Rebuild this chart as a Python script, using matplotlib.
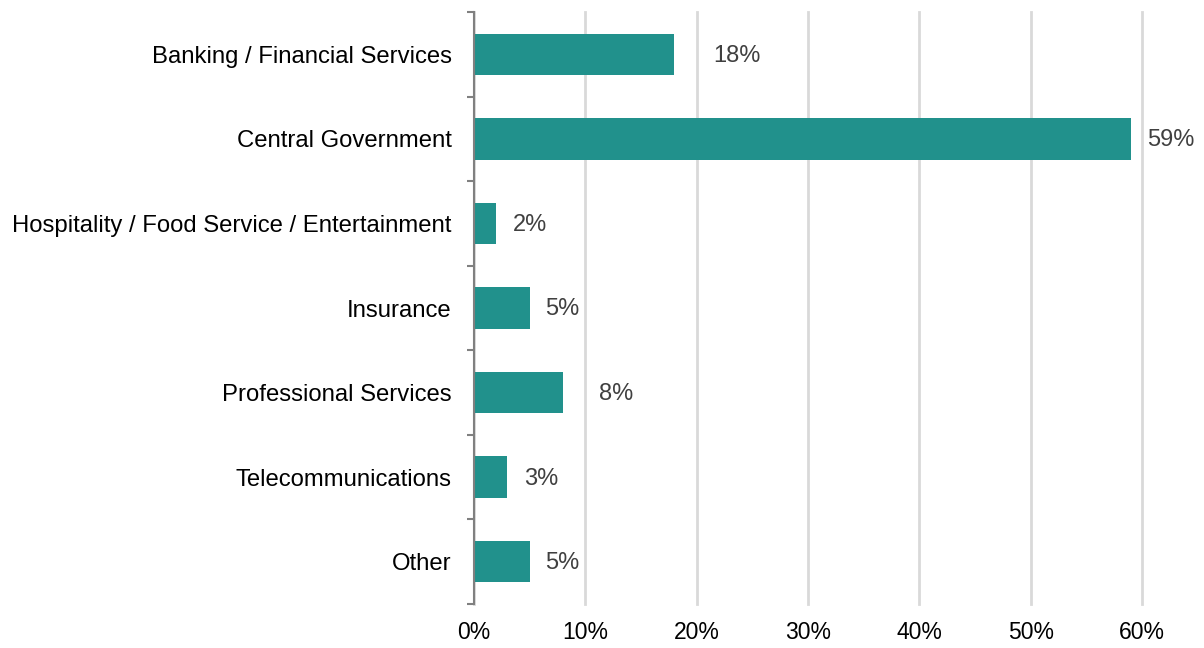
import numpy as np
import matplotlib.pyplot as plt
from matplotlib.ticker import FixedLocator, PercentFormatter

plt.rcParams['font.family'] = ['Liberation Sans', 'DejaVu Sans']

sectors = [
    "Banking / Financial Services",
    "Central Government",
    "Hospitality / Food Service / Entertainment",
    "Insurance",
    "Professional Services",
    "Telecommunications",
    "Other",
]
shares = [18, 59, 2, 5, 8, 3, 5]
label_pad = [28, 12, 12, 11, 26, 12, 11]  # points right of the bar end

teal = "#21918c"

fig = plt.figure(figsize=(12.04, 6.48), dpi=100)
ax = fig.add_axes([474 / 1204, 44 / 648, (1142 - 474) / 1204, 592 / 648])

ypos = np.arange(len(sectors))
ax.barh(ypos, shares, height=0.49, color=teal, zorder=3)

for y, v, p in zip(ypos, shares, label_pad):
    ax.annotate(f"{v}%", (v, y), xytext=(p, -1), textcoords="offset points",
                ha="left", va="center", fontsize=17, color="#404040")

ax.set_xlim(0, 60)
ax.set_ylim(len(sectors) - 0.5, -0.5)
ax.set_xticks(np.arange(0, 61, 10))
ax.xaxis.set_major_formatter(PercentFormatter(decimals=0))
ax.set_yticks(ypos)
ax.set_yticklabels(sectors)
ax.yaxis.set_minor_locator(FixedLocator(np.arange(-0.5, len(sectors), 1)))

ax.tick_params(axis="y", which="major", length=0, pad=16, labelsize=17.2)
ax.tick_params(axis="y", which="minor", length=5, width=1.5, color="#808080")
ax.tick_params(axis="x", length=0, pad=12, labelsize=16.5)

ax.grid(axis="x", color="#d9d9d9", linewidth=2, zorder=0)
for gl in ax.get_xgridlines():
    gl.set_clip_on(False)
for side in ("top", "right", "bottom"):
    ax.spines[side].set_visible(False)
ax.spines["left"].set_color("#808080")
ax.spines["left"].set_linewidth(1.5)
ax.spines["left"].set_zorder(4)

fig.savefig("out.png", dpi=100)
